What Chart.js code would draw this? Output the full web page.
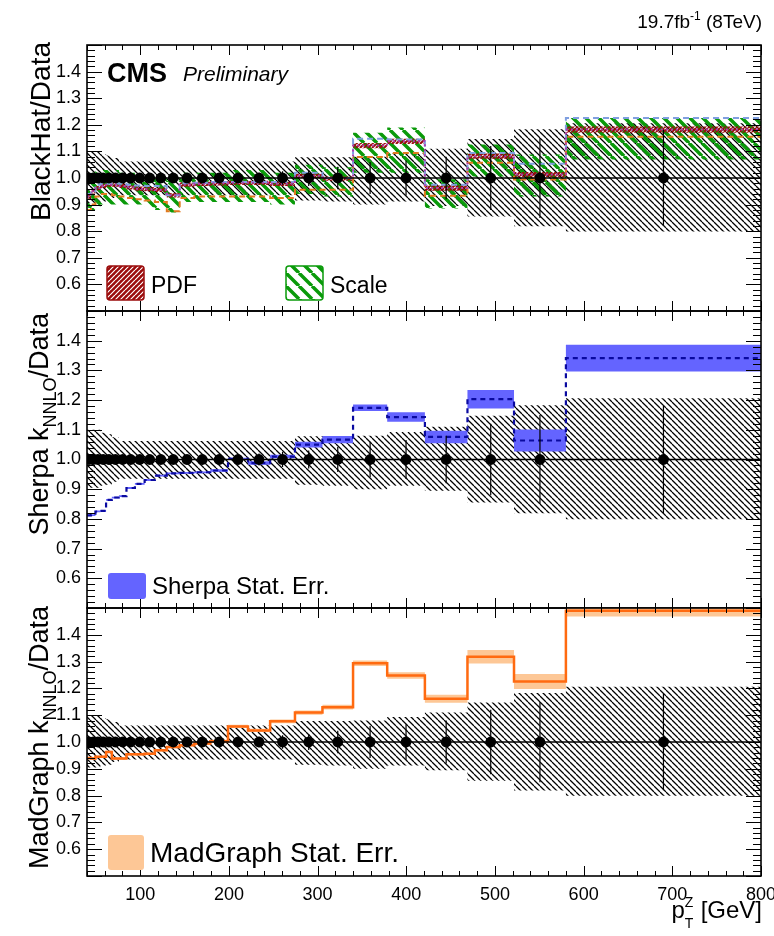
<!DOCTYPE html>
<html>
<head>
<meta charset="utf-8">
<script src="https://cdn.jsdelivr.net/npm/chart.js@4.4.1/dist/chart.umd.min.js"></script>
<style>
  body { margin: 0; background: #fff; }
  #wrap { position: relative; width: 774px; height: 936px; background: #fff; }
  #wrap canvas { position: absolute; left: 0; top: 0; }
</style>
</head>
<body>
<div id="wrap">
  <canvas id="pBH" width="774" height="936"></canvas>
  <canvas id="pSH" width="774" height="936"></canvas>
  <canvas id="pMG" width="774" height="936"></canvas>
</div>
<script>
// pT(Z) bin edges [GeV]
const binEdges = [40, 44.5, 49.5, 55, 61.5, 68, 76, 84.5, 94, 105, 116.5, 130, 144.5, 161, 179, 199,
                  221.5, 246.5, 274.5, 305.5, 340, 378.5, 421, 469, 521.5, 580, 800];

// data (ratio to itself) and its uncertainties
const dataRatio = [1, 1, 1, 1, 1, 1, 1, 1, 1, 1, 1, 1, 1, 1, 1, 1, 1, 1, 1, 1, 1, 1, 1, 1, 1, 1];
const dataStat  = [0.004, 0.004, 0.004, 0.004, 0.004, 0.005, 0.005, 0.005, 0.006, 0.007, 0.008, 0.009, 0.010,
                   0.012, 0.014, 0.017, 0.020, 0.025, 0.030, 0.042, 0.060, 0.066, 0.080, 0.120, 0.150, 0.180];
const dataTotUp = [0.100, 0.100, 0.100, 0.090, 0.085, 0.075, 0.062, 0.062, 0.062, 0.062, 0.062, 0.062, 0.062,
                   0.062, 0.062, 0.062, 0.062, 0.062, 0.078, 0.078, 0.080, 0.093, 0.110, 0.147, 0.183, 0.206];
const dataTotDn = [0.095, 0.095, 0.095, 0.088, 0.085, 0.075, 0.065, 0.065, 0.065, 0.065, 0.065, 0.065, 0.065,
                   0.065, 0.065, 0.065, 0.065, 0.065, 0.085, 0.088, 0.100, 0.088, 0.105, 0.145, 0.181, 0.201];

// BlackHat / Data
const bhPdf      = [0.930, 0.950, 0.962, 0.970, 0.975, 0.975, 0.970, 0.965, 0.960, 0.958, 0.955, 0.935, 0.975,
                    0.978, 0.980, 0.982, 0.982, 0.978, 1.008, 0.998, 1.122, 1.138, 0.962, 1.082, 1.013, 1.182];
const bhPdfErr   = [0.008, 0.008, 0.008, 0.008, 0.008, 0.008, 0.008, 0.008, 0.008, 0.008, 0.008, 0.008, 0.008,
                    0.008, 0.008, 0.008, 0.008, 0.008, 0.008, 0.008, 0.010, 0.010, 0.010, 0.010, 0.010, 0.012];
const bhScaleUp  = [1.000, 1.020, 1.030, 1.030, 1.030, 1.030, 1.020, 1.020, 1.010, 1.010, 1.000, 0.990, 1.020,
                    1.020, 1.020, 1.030, 1.030, 1.020, 1.050, 1.040, 1.170, 1.190, 0.995, 1.126, 1.088, 1.226];
const bhScaleDn  = [0.860, 0.880, 0.890, 0.900, 0.900, 0.900, 0.900, 0.900, 0.900, 0.890, 0.880, 0.870, 0.910,
                    0.910, 0.910, 0.910, 0.910, 0.900, 0.940, 0.930, 1.020, 1.020, 0.885, 1.006, 0.930, 1.070];
const bhAltHigh  = [0.940, 0.945, 0.975, 0.978, 0.978, 0.980, 0.978, 0.975, 0.972, 0.970, 0.970, 0.935, 0.980,
                    0.982, 0.985, 0.985, 0.985, 0.985, 1.020, 1.000, 1.148, 1.145, 0.975, 1.094, 1.054, 1.226];
const bhAltLow   = [0.880, 0.900, 0.930, 0.940, 0.940, 0.935, 0.930, 0.925, 0.920, 0.915, 0.910, 0.875, 0.925,
                    0.930, 0.930, 0.930, 0.930, 0.925, 0.956, 0.956, 1.079, 1.094, 0.933, 1.057, 0.994, 1.155];

// Sherpa k_NNLO / Data
const sherpa     = [0.812, 0.813, 0.825, 0.827, 0.864, 0.872, 0.877, 0.904, 0.918, 0.931, 0.946, 0.953, 0.955,
                    0.957, 0.963, 1.002, 0.988, 1.010, 1.050, 1.067, 1.174, 1.143, 1.076, 1.203, 1.064, 1.341];
const sherpaErr  = [0.003, 0.003, 0.003, 0.003, 0.003, 0.003, 0.003, 0.003, 0.003, 0.003, 0.003, 0.003, 0.003,
                    0.003, 0.004, 0.004, 0.006, 0.006, 0.010, 0.012, 0.011, 0.016, 0.021, 0.031, 0.037, 0.045];

// MadGraph k_NNLO / Data
const madgraph   = [0.940, 0.938, 0.945, 0.945, 0.963, 0.938, 0.938, 0.954, 0.954, 0.956, 0.969, 0.981, 0.988,
                    0.994, 1.003, 1.058, 1.043, 1.077, 1.110, 1.130, 1.294, 1.248, 1.161, 1.318, 1.226, 1.490];
const madgraphErr= [0.004, 0.004, 0.004, 0.004, 0.004, 0.004, 0.004, 0.004, 0.004, 0.004, 0.004, 0.004, 0.004,
                    0.004, 0.005, 0.006, 0.006, 0.007, 0.008, 0.009, 0.010, 0.012, 0.015, 0.025, 0.028, 0.022];

const yTickLabels = ['0.6', '0.7', '0.8', '0.9', '1.0', '1.1', '1.2', '1.3', '1.4'];
const xTickLabels = ['100', '200', '300', '400', '500', '600', '700', '800'];

const FONT = "'Liberation Sans', Arial, Helvetica, sans-serif";
Chart.defaults.font.family = FONT;
Chart.defaults.color = '#000';

const binCenters = binEdges.slice(0, -1).map((lo, i) => (lo + binEdges[i + 1]) / 2);

// histogram outline as step points
function steps(vals) {
  const pts = [];
  vals.forEach((v, i) => { pts.push({ x: binEdges[i], y: v }, { x: binEdges[i + 1], y: v }); });
  return pts;
}
const plus = (a, b, s) => a.map((v, i) => v + s * b[i]);

function hatch(color, lw, gap, slash) {
  const tile = document.createElement('canvas');
  tile.width = tile.height = gap;
  const g = tile.getContext('2d');
  g.strokeStyle = color; g.lineWidth = lw;
  g.beginPath();
  for (let k = -1; k <= 1; k++) {
    if (slash) { g.moveTo(k * gap, gap); g.lineTo(k * gap + gap, 0); }
    else       { g.moveTo(k * gap, 0);   g.lineTo(k * gap + gap, gap); }
  }
  g.stroke();
  return document.getElementById('pBH').getContext('2d').createPattern(tile, 'repeat');
}
const dataHatch  = hatch('#000', 1.25, 6, false);
const scaleHatch = hatch('#0a9a0a', 3.5, 13, false);
const pdfHatch   = hatch('#9b0b0b', 2, 4, true);

function band(up, dn, fillStyle) {
  return [
    { data: steps(up), fill: '+1', backgroundColor: fillStyle, borderWidth: 0, pointRadius: 0 },
    { data: steps(dn), fill: false, borderWidth: 0, pointRadius: 0 }
  ];
}
function line(vals, color, width, dash) {
  return { data: steps(vals), borderColor: color, borderWidth: width, borderDash: dash || [], pointRadius: 0, fill: false };
}

// data points, error bars, unity line: on top of everything
function dataLayers() {
  const bars = [];
  binCenters.forEach((c, i) => {
    bars.push({ x: c, y: dataRatio[i] - dataStat[i] }, { x: c, y: dataRatio[i] + dataStat[i] }, { x: c, y: null });
  });
  return [
    { data: binCenters.map((c, i) => ({ x: c, y: dataRatio[i] })), showLine: false,
      pointRadius: 5.4, pointBackgroundColor: '#000', pointBorderWidth: 0 },
    { data: bars, borderColor: '#000', borderWidth: 1.2, pointRadius: 0, spanGaps: false, fill: false },
    { data: [{ x: binEdges[0], y: 1 }, { x: binEdges[binEdges.length - 1], y: 1 }],
      borderColor: '#000', borderWidth: 1.3, pointRadius: 0, fill: false }
  ];
}
function dataBand() {
  return band(plus(dataRatio, dataTotUp, 1), plus(dataRatio, dataTotDn, -1), dataHatch);
}

// frame with inward ticks on all four sides
const framePlugin = {
  id: 'frame',
  afterDraw(chart) {
    const { ctx, chartArea: a, scales: { x, y } } = chart;
    ctx.save();
    ctx.strokeStyle = '#000';
    ctx.lineWidth = 1;
    ctx.beginPath();
    for (let v = 40; v <= 800; v += 20) {
      const px = Math.round(x.getPixelForValue(v)) + 0.5;
      const len = v % 100 === 0 ? 10 : 5;
      ctx.moveTo(px, a.bottom); ctx.lineTo(px, a.bottom - len);
      ctx.moveTo(px, a.top);    ctx.lineTo(px, a.top + len);
    }
    for (let k = 0; k <= 50; k++) {
      const v = 0.5 + k * 0.02;
      const py = Math.round(y.getPixelForValue(v)) + 0.5;
      const len = k % 5 === 0 ? 15 : 8;
      ctx.moveTo(a.left, py);  ctx.lineTo(a.left + len, py);
      ctx.moveTo(a.right, py); ctx.lineTo(a.right - len, py);
    }
    ctx.stroke();
    ctx.lineWidth = 1.6;
    ctx.strokeRect(a.left, a.top, a.right - a.left, a.bottom - a.top);
    ctx.restore();
  }
};

function text(ctx, str, x, y, size, opts) {
  opts = opts || {};
  ctx.font = (opts.style || '') + ' ' + size + 'px ' + FONT;
  ctx.textAlign = opts.align || 'left';
  ctx.textBaseline = 'alphabetic';
  ctx.fillStyle = '#000';
  ctx.fillText(str, x, y);
  return ctx.measureText(str).width;
}

// rotated axis title made of pieces (dy shifts subscripts)
function yTitle(ctx, parts, baseX, topY) {
  ctx.save();
  ctx.translate(baseX, topY);
  ctx.rotate(-Math.PI / 2);
  let total = 0;
  parts.forEach(p => { ctx.font = p.size + 'px ' + FONT; total += ctx.measureText(p.t).width; });
  let cx = -total;
  parts.forEach(p => {
    ctx.font = p.size + 'px ' + FONT;
    ctx.fillStyle = '#000';
    ctx.textAlign = 'left';
    ctx.fillText(p.t, cx, p.dy || 0);
    cx += ctx.measureText(p.t).width;
  });
  ctx.restore();
}

function legendBox(ctx, x, y, w, h, fill, border, pattern) {
  ctx.save();
  ctx.fillStyle = fill;
  ctx.beginPath();
  ctx.roundRect(x, y, w, h, 3);
  ctx.fill();
  if (pattern) { ctx.fillStyle = pattern; ctx.fill(); }
  if (border) { ctx.strokeStyle = border; ctx.lineWidth = 1.5; ctx.stroke(); }
  ctx.restore();
}

function makePanel(id, top, bottom, datasets, decorate, showX) {
  return new Chart(document.getElementById(id), {
    type: 'line',
    data: { datasets },
    options: {
      responsive: false,
      animation: false,
      events: [],
      layout: { padding: { top, bottom, left: 0, right: 13 } },
      plugins: { legend: { display: false }, tooltip: { enabled: false } },
      scales: {
        x: {
          type: 'linear', min: 40, max: 800, offset: false,
          display: showX,
          grid: { display: false, drawTicks: false },
          border: { display: false },
          ticks: {
            stepSize: 100, padding: 8, maxRotation: 0, autoSkip: false,
            font: { size: 18 },
            callback: v => xTickLabels.includes(String(v)) ? String(v) : ''
          },
          afterFit(s) { s.height = showX ? 60 : 0; s.paddingLeft = 0; s.paddingRight = 0; }
        },
        y: {
          type: 'linear', min: 0.5, max: 1.5,
          grid: { display: false, drawTicks: false },
          border: { display: false },
          ticks: {
            stepSize: 0.1, padding: 6, autoSkip: false,
            font: { size: 18 },
            callback: v => { const s = v.toFixed(1); return yTickLabels.includes(s) ? s : ''; }
          },
          afterFit(s) { s.width = 87; s.paddingTop = 0; s.paddingBottom = 0; }
        }
      }
    },
    plugins: [framePlugin, { id: 'decor', afterDraw: c => decorate(c.ctx) }]
  });
}

// BlackHat panel
makePanel('pBH', 45, 936 - 311, [
  ...dataLayers(),
  line(bhPdf, '#b03cb0', 2, [2, 3]),
  line(bhAltHigh, '#7f9fe0', 2, [6, 4]),
  line(bhAltLow, '#e07a1f', 2, [6, 4]),
  ...band(plus(bhPdf, bhPdfErr, 1), plus(bhPdf, bhPdfErr, -1), pdfHatch),
  ...band(bhScaleUp, bhScaleDn, scaleHatch),
  ...dataBand()
], ctx => {
  // luminosity label
  ctx.save();
  ctx.font = '19px ' + FONT;
  const w1 = ctx.measureText('19.7fb').width;
  const w3 = ctx.measureText(' (8TeV)').width;
  ctx.font = '12px ' + FONT;
  const w2 = ctx.measureText('-1').width;
  const x0 = 762 - (w1 + w2 + w3);
  text(ctx, '19.7fb', x0, 28, 19);
  text(ctx, '-1', x0 + w1, 20, 12);
  text(ctx, ' (8TeV)', x0 + w1 + w2, 28, 19);
  ctx.restore();

  text(ctx, 'CMS', 107, 82, 27, { style: 'bold' });
  text(ctx, 'Preliminary', 183, 81, 21, { style: 'italic' });

  legendBox(ctx, 107, 266, 37, 34, '#9b0b0b', '#9b0b0b', hatch('#ffffff', 1.2, 5, true));
  text(ctx, 'PDF', 151, 293, 23);
  legendBox(ctx, 286, 266, 37, 34, '#ffffff', '#0a9a0a', scaleHatch);
  text(ctx, 'Scale', 330, 293, 23);

  yTitle(ctx, [{ t: 'BlackHat/Data', size: 28 }], 50, 42);
}, false);

// Sherpa panel
makePanel('pSH', 311, 936 - 608, [
  ...dataLayers(),
  line(sherpa, '#0a0aa0', 2.2, [5, 4]),
  ...band(plus(sherpa, sherpaErr, 1), plus(sherpa, sherpaErr, -1), '#6464ff'),
  ...dataBand()
], ctx => {
  legendBox(ctx, 108, 573, 38, 26, '#6464ff', null, null);
  text(ctx, 'Sherpa Stat. Err.', 152, 594, 24);
  yTitle(ctx, [{ t: 'Sherpa k', size: 27 }, { t: 'NNLO', size: 18, dy: 8 }, { t: '/Data', size: 27 }], 48, 313);
}, false);

// MadGraph panel with the shared x axis
makePanel('pMG', 608, 0, [
  ...dataLayers(),
  line(madgraph, '#ff6a10', 2.5),
  ...band(plus(madgraph, madgraphErr, 1), plus(madgraph, madgraphErr, -1), '#fdc796'),
  ...dataBand()
], ctx => {
  legendBox(ctx, 108, 835, 36, 35, '#fdc796', null, null);
  text(ctx, 'MadGraph Stat. Err.', 150, 862, 28);
  yTitle(ctx, [{ t: 'MadGraph k', size: 27 }, { t: 'NNLO', size: 18, dy: 8 }, { t: '/Data', size: 27 }], 48, 606);

  // x title: p_T^Z [GeV]
  ctx.save();
  ctx.font = '24px ' + FONT;
  const wRest = ctx.measureText(' [GeV]').width;
  const wp = ctx.measureText('p').width;
  ctx.font = '15px ' + FONT;
  const ws = ctx.measureText('T').width;
  const x0 = 762 - wRest - ws - wp;
  text(ctx, 'p', x0, 918, 24);
  text(ctx, 'T', x0 + wp, 928, 14);
  text(ctx, 'Z', x0 + wp, 907, 14);
  text(ctx, ' [GeV]', x0 + wp + ws, 918, 24);
  ctx.restore();
}, true);
</script>
</body>
</html>
